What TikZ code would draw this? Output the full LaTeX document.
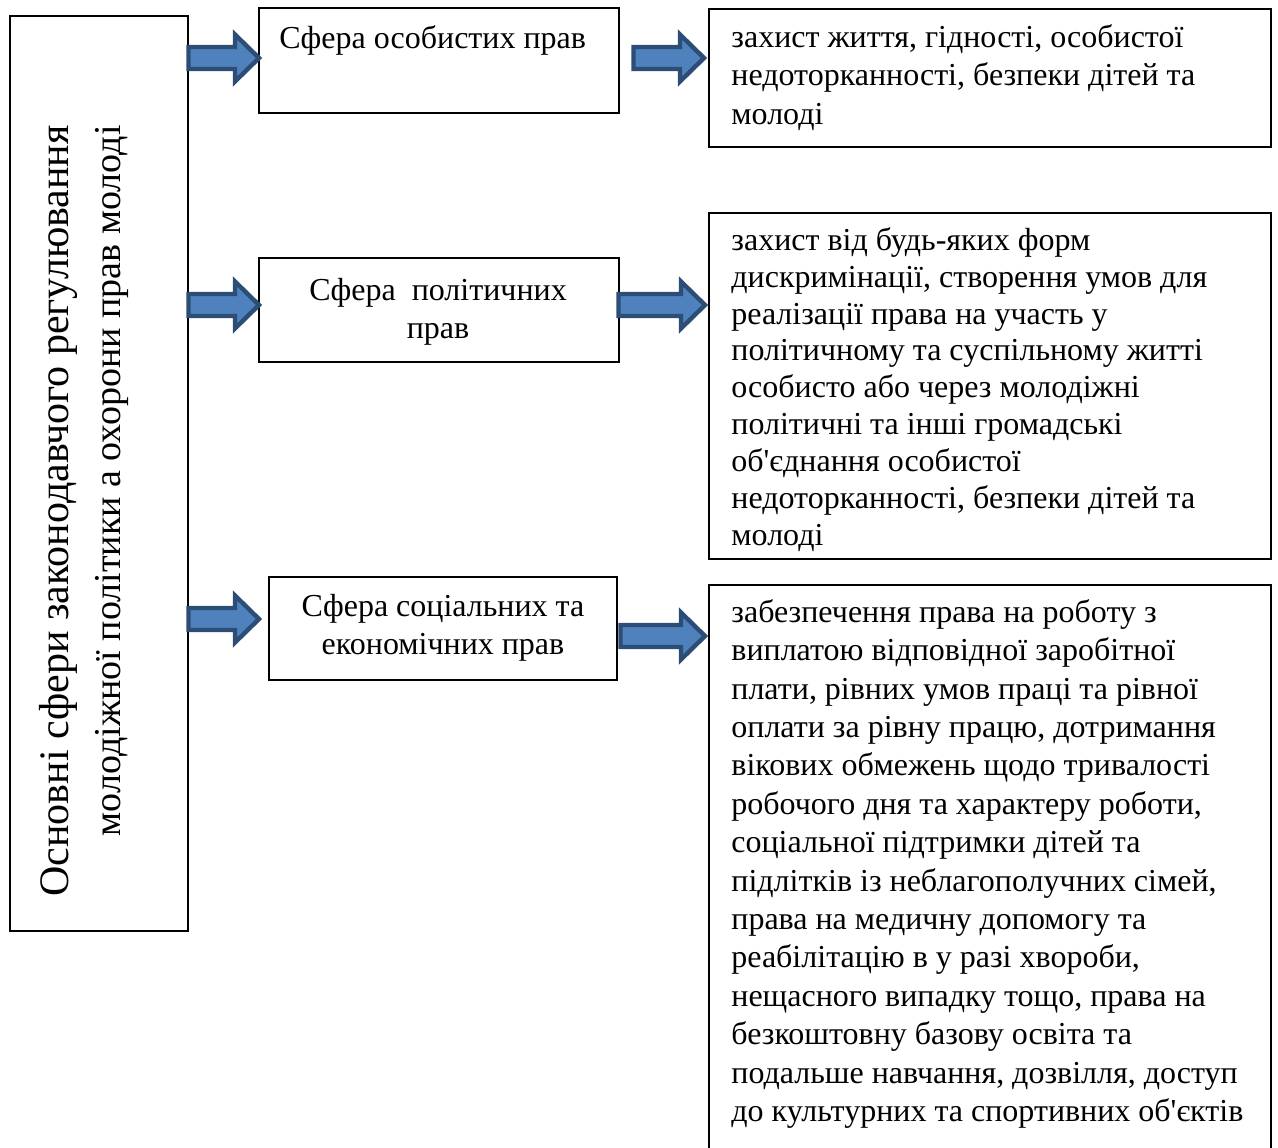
\documentclass[tikz,border=0pt]{standalone}
\usepackage{fontspec}
\setmainfont{Liberation Serif}
\usetikzlibrary{calc}
\definecolor{arrfill}{HTML}{4F81BD}
\definecolor{arrdraw}{HTML}{2C4D75}
\newcommand\blockarrow[2]{%
  \filldraw[barrow] let \p1=(#1), \p2=(#2) in
   (\x1,\y1-5.5pt) -- (\x2-12pt,\y1-5.5pt) -- (\x2-12pt,\y1-11.75pt) -- (\x2,\y1)
   -- (\x2-12pt,\y1+11.75pt) -- (\x2-12pt,\y1+5.5pt) -- (\x1,\y1+5.5pt) -- cycle;}
\begin{document}
\begin{tikzpicture}[x=0.5pt,y=-0.5pt,
  box/.style={draw=black, line width=0.75pt, inner sep=0, anchor=north west},
  txt/.style={font=\fontsize{16}{19.2}\selectfont, inner sep=0},
  barrow/.style={fill=arrfill, draw=arrdraw, line width=2.2pt, miter limit=10}]
\useasboundingbox (0,0) rectangle (1278,1147);
% boxes
\node[box, minimum width=89pt, minimum height=457.5pt] (L) at (9,15) {};
\node[box, minimum width=180pt, minimum height=52.5pt] (A) at (258,7) {};
\node[box, minimum width=180pt, minimum height=52pt] (B) at (258,257) {};
\node[box, minimum width=174pt, minimum height=51.5pt] (C) at (268,576) {};
\node[box, minimum width=281pt, minimum height=69pt] (R1) at (708,8) {};
\node[box, minimum width=281pt, minimum height=173pt] (R2) at (708,212) {};
\node[box, minimum width=281pt, minimum height=283pt] (R3) at (708,584) {};
% texts
\node[rotate=90, anchor=north east, inner sep=0, align=right,
      font=\fontsize{21}{26}\selectfont] (tL) at (32,125)
  {\strut Основні сфери законодавчого регулювання\\
   {\fontsize{19}{26}\selectfont молодіжної політики а охорони прав молоді}};
\node[txt, anchor=base west] (tA) at (279,48) {Сфера особистих прав};
\node[txt, anchor=north, align=center] (tB) at (438,273) {\strut Сфера~ політичних\\прав};
\node[txt, anchor=north, align=center] (tC) at (443,589) {\strut Сфера соціальних та\\економічних прав};
\node[txt, anchor=north west, align=left] (tR1) at (731,20)
 {\strut захист життя, гідності, особистої\\
  недоторканності, безпеки дітей та\\
  молоді};
\node[txt, anchor=north west, align=left, font=\fontsize{16}{18.45}\selectfont] (tR2) at (731,224)
 {\strut захист від будь-яких форм\\
  дискримінації, створення умов для\\
  реалізації права на участь у\\
  політичному та суспільному житті\\
  особисто або через молодіжні\\
  політичні та інші громадські\\
  об\textquotesingle єднання особистої\\
  недоторканності, безпеки дітей та\\
  молоді};
\node[txt, anchor=north west, align=left] (tR3) at (731,595)
 {\strut забезпечення права на роботу з\\
  виплатою відповідної заробітної\\
  плати, рівних умов праці та рівної\\
  оплати за рівну працю, дотримання\\
  вікових обмежень щодо тривалості\\
  робочого дня та характеру роботи,\\
  соціальної підтримки дітей та\\
  підлітків із неблагополучних сімей,\\
  права на медичну допомогу та\\
  реабілітацію в у разі хвороби,\\
  нещасного випадку тощо, права на\\
  безкоштовну базову освіта та\\
  подальше навчання, дозвілля, доступ\\
  до культурних та спортивних об\textquotesingle єктів};
% arrows
\coordinate (s1) at (L.east |- 0,58);
\coordinate (s2) at (L.east |- 0,305);
\coordinate (s3) at (L.east |- 0,619);
\blockarrow{s1}{$(A.west)+(1,0)$}
\blockarrow{s2}{$(B.west)+(1,0)$}
\blockarrow{s3}{$(C.west)+(-9,0)$}
\coordinate (r1) at ($(A.east |- 0,58)+(14,0)$);
\coordinate (r2) at ($(B.east |- 0,305)+(-1,0)$);
\coordinate (r3) at ($(C.east |- 0,636)+(3,0)$);
\blockarrow{r1}{$(R1.west)+(-4,0)$}
\blockarrow{r2}{$(R2.west)+(-3,0)$}
\blockarrow{r3}{$(R3.west)+(-3,0)$}
\end{tikzpicture}
\end{document}
